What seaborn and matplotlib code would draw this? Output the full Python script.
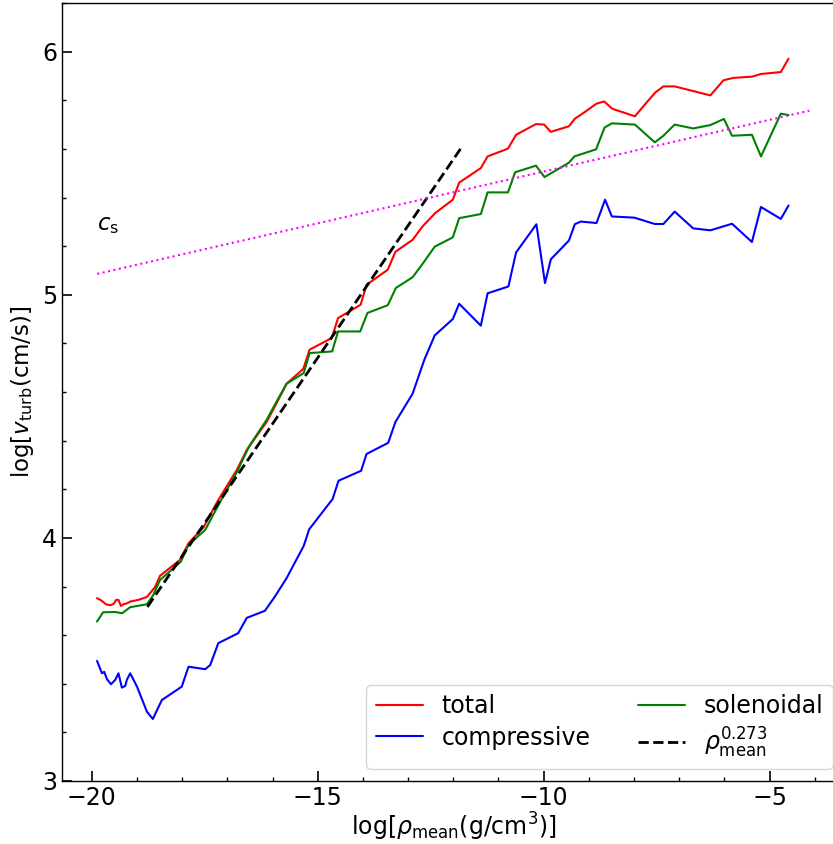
import numpy as np
import pandas as pd
import matplotlib
matplotlib.use("Agg")
import matplotlib.pyplot as plt
import seaborn as sns
from matplotlib.ticker import MultipleLocator

sns.set_style("ticks")
plt.rcParams['font.family'] = ['DejaVu Sans']
plt.rcParams['mathtext.fontset'] = 'dejavusans'
plt.rcParams['text.color'] = 'black'
plt.rcParams['axes.labelcolor'] = 'black'
plt.rcParams['xtick.color'] = 'black'
plt.rcParams['ytick.color'] = 'black'

# ---- data ----
total_x = [-19.885, -19.812, -19.76, -19.687, -19.59, -19.52, -19.46, -19.41, -19.355, -19.30,
           -19.22, -19.15, -18.97, -18.78, -18.67, -18.60, -18.49, -18.16, -18.05, -17.86,
           -17.53, -17.20, -16.79, -16.57, -16.13, -15.91, -15.69, -15.32, -15.18, -14.69,
           -14.55, -14.05, -13.92, -13.45, -13.28, -12.90, -12.68, -12.40, -12.01, -11.87,
           -11.39, -11.24, -10.79, -10.61, -10.17, -9.99, -9.84, -9.44, -9.31, -9.14,
           -8.83, -8.66, -8.48, -7.98, -7.54, -7.35, -7.10, -6.31, -6.02, -5.80,
           -5.39, -5.19, -4.75, -4.58]
total_y = [3.752, 3.745, 3.738, 3.727, 3.723, 3.728, 3.745, 3.745, 3.720, 3.727,
           3.731, 3.738, 3.745, 3.757, 3.782, 3.798, 3.844, 3.893, 3.909, 3.978,
           4.043, 4.156, 4.280, 4.362, 4.477, 4.554, 4.634, 4.695, 4.774, 4.822,
           4.904, 4.959, 5.041, 5.103, 5.177, 5.226, 5.281, 5.336, 5.391, 5.461,
           5.521, 5.569, 5.601, 5.658, 5.702, 5.700, 5.670, 5.693, 5.724, 5.745,
           5.786, 5.795, 5.765, 5.734, 5.830, 5.857, 5.857, 5.820, 5.882, 5.892,
           5.897, 5.908, 5.916, 5.971]

sol_x = [-19.885, -19.75, -19.48, -19.33, -19.15, -18.78, -18.64, -18.49, -18.03, -17.86,
         -17.49, -17.16, -16.78, -16.52, -16.13, -15.91, -15.69, -15.31, -15.18, -14.68,
         -14.55, -14.06, -13.90, -13.45, -13.27, -12.90, -12.66, -12.41, -12.01, -11.87,
         -11.39, -11.24, -10.79, -10.63, -10.17, -9.98, -9.44, -9.32, -8.84, -8.65,
         -8.49, -7.98, -7.54, -7.35, -7.10, -6.69, -6.31, -6.01, -5.83, -5.39,
         -5.19, -4.75, -4.58]
sol_y = [3.656, 3.694, 3.695, 3.690, 3.715, 3.727, 3.765, 3.827, 3.902, 3.971,
         4.033, 4.148, 4.274, 4.376, 4.486, 4.561, 4.634, 4.678, 4.760, 4.767,
         4.849, 4.849, 4.925, 4.957, 5.028, 5.072, 5.132, 5.198, 5.236, 5.315,
         5.332, 5.421, 5.421, 5.504, 5.531, 5.484, 5.543, 5.569, 5.598, 5.688,
         5.705, 5.700, 5.627, 5.654, 5.700, 5.684, 5.698, 5.723, 5.654, 5.658,
         5.569, 5.745, 5.739]

comp_x = [-19.885, -19.775, -19.725, -19.665, -19.577, -19.482, -19.41, -19.335, -19.26, -19.225,
          -19.15, -19.0, -18.78, -18.65, -18.45, -18.01, -17.86, -17.49, -17.38, -17.20,
          -16.76, -16.57, -16.17, -15.95, -15.69, -15.31, -15.19, -14.67, -14.54, -14.04,
          -13.92, -13.44, -13.28, -12.90, -12.64, -12.41, -12.01, -11.87, -11.39, -11.24,
          -10.78, -10.61, -10.16, -9.97, -9.84, -9.44, -9.31, -9.18, -8.83, -8.64,
          -8.49, -7.99, -7.54, -7.35, -7.10, -6.69, -6.31, -5.83, -5.39, -5.19,
          -4.75, -4.58]
comp_y = [3.494, 3.443, 3.449, 3.419, 3.398, 3.416, 3.443, 3.384, 3.391, 3.416,
          3.443, 3.388, 3.285, 3.255, 3.333, 3.388, 3.470, 3.460, 3.477, 3.567,
          3.608, 3.671, 3.700, 3.758, 3.834, 3.967, 4.035, 4.160, 4.235, 4.276,
          4.345, 4.391, 4.477, 4.593, 4.733, 4.833, 4.900, 4.963, 4.873, 5.006,
          5.034, 5.174, 5.290, 5.048, 5.146, 5.223, 5.290, 5.301, 5.295, 5.391,
          5.322, 5.317, 5.291, 5.291, 5.342, 5.273, 5.265, 5.292, 5.217, 5.361,
          5.312, 5.367]

fit_x = [-18.77, -11.84]
fit_y = [3.716, 5.600]

cs_x = [-19.88, -4.12]
cs_y = [5.086, 5.757]

# ---- figure ----
W, H = 833, 844
fig = plt.figure(figsize=(W / 100, H / 100), dpi=100)
ax = fig.add_axes([62 / W, (H - 781) / H, (845 - 62) / W, (781 - 3) / H])

lw = 1.5
sns.lineplot(x=total_x, y=total_y, ax=ax, color='red', lw=lw, label='total',
             estimator=None, sort=False)
sns.lineplot(x=comp_x, y=comp_y, ax=ax, color='blue', lw=lw, label='compressive',
             estimator=None, sort=False)
sns.lineplot(x=sol_x, y=sol_y, ax=ax, color='green', lw=lw, label='solenoidal',
             estimator=None, sort=False)
sns.lineplot(x=fit_x, y=fit_y, ax=ax, color='black', lw=2, ls='--',
             label=r'$\rho_{\rm mean}^{0.273}$', estimator=None, sort=False)
sns.lineplot(x=cs_x, y=cs_y, ax=ax, color='magenta', lw=1.5, ls=':',
             estimator=None, sort=False)

ax.text(-19.88, 5.29, r'$c_{\rm s}$', fontsize=16.5, ha='left', va='center')

ax.set_xlim(-20.66, -3.33)
ax.set_ylim(3.0, 6.2)
ax.xaxis.set_major_locator(MultipleLocator(5))
ax.xaxis.set_minor_locator(MultipleLocator(1))
ax.yaxis.set_major_locator(MultipleLocator(1))
ax.yaxis.set_minor_locator(MultipleLocator(0.2))
ax.tick_params(which='both', direction='in', top=False, right=False)
ax.tick_params(which='major', length=7, width=1.2, labelsize=17)
ax.tick_params(which='minor', length=3, width=1.0)
for s in ax.spines.values():
    s.set_visible(True)
    s.set_color('black')
    s.set_linewidth(1.0)

ax.set_xlabel(r'log[$\rho_{\rm mean}$(g/cm$^3$)]', fontsize=17, labelpad=1)
ax.set_ylabel(r'log[$v_{\rm turb}$(cm/s)]', fontsize=16.5, labelpad=4)

ax.legend(loc='lower right', ncol=2, fontsize=17, handlelength=2.0,
          columnspacing=2.0, labelspacing=0.3)

fig.savefig('out.png', dpi=100)
